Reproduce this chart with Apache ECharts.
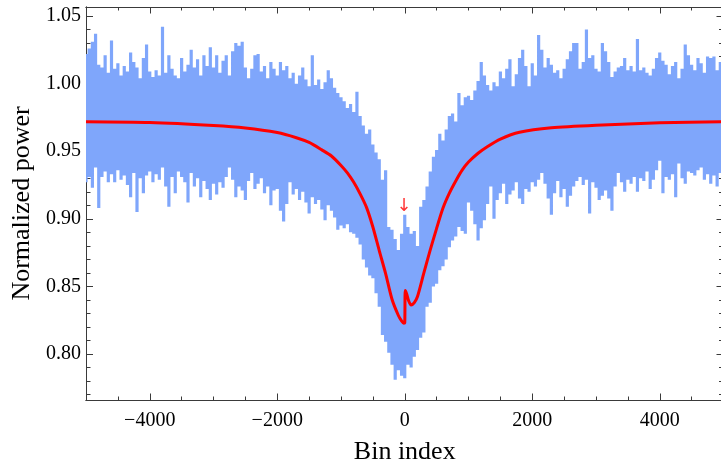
<!DOCTYPE html>
<html>
<head>
<meta charset="utf-8">
<script src="https://cdn.jsdelivr.net/npm/echarts@6/dist/echarts.min.js"></script>
<style>html,body{margin:0;padding:0;background:#fff;}#chart{width:721px;height:462px;}</style>
</head>
<body>
<div id="chart"></div>
<script>
// ---- data ----
const noiseStart = -5000;   // first bin of the noise samples
const noiseStep = 50;       // bins between samples
const noiseHigh = [
  // -5000 .. -3000
  1.022,1.026,1.031,1.037,1.014,1.012,1.021,1.008,1.032,1.011,
  1.015,1.006,1.013,1.009,1.023,1.016,1.012,1.004,1.019,1.029,
  1.009,1.005,1.010,1.006,1.042,1.008,1.021,1.011,1.006,1.004,
  1.019,1.009,1.014,1.025,1.012,1.018,1.006,1.021,1.013,1.027,
  1.012,
  // -2950 .. -1000
  1.021,1.008,1.017,1.021,1.006,1.024,1.030,1.028,1.031,1.012,
  1.004,1.011,1.021,1.022,1.009,1.013,1.004,1.016,1.011,1.006,
  1.016,1.010,1.013,1.004,1.008,1.000,1.006,1.012,1.003,0.998,
  1.021,0.999,1.003,0.996,1.001,1.010,1.004,0.997,0.993,0.990,
  // -950 .. 950
  0.987,0.982,0.985,0.979,0.994,0.976,0.969,0.963,0.966,0.955,
  0.949,0.944,0.929,0.936,0.894,0.892,0.885,0.877,0.889,0.903,
  0.894,0.889,0.891,0.880,0.909,0.914,0.924,0.935,0.946,0.951,
  0.963,0.958,0.966,0.976,0.978,0.972,0.993,0.984,0.990,
  // 1000 .. 3000
  0.991,0.988,0.995,1.002,1.016,1.006,0.999,0.995,1.001,0.998,
  1.009,1.004,1.011,1.018,0.998,1.007,1.019,1.025,1.013,0.998,
  1.015,1.006,1.036,1.025,1.012,1.019,1.014,1.008,1.010,1.004,
  1.011,1.018,1.024,1.030,1.030,1.011,1.016,1.040,1.019,1.021,
  1.011,
  // 3050 .. 5000
  1.009,1.030,1.024,1.016,1.005,1.009,1.012,1.013,1.019,1.010,
  1.013,1.009,1.033,1.010,1.012,1.008,1.006,1.011,1.019,1.023,
  1.017,1.014,1.007,1.013,1.016,1.004,1.011,1.029,1.021,1.014,
  1.010,1.019,1.015,1.008,1.020,1.019,1.020,1.010,1.016,1.012
];
const noiseLow = [
  // -5000 .. -3000
  0.927,0.931,0.923,0.938,0.908,0.931,0.935,0.927,0.933,0.927,
  0.936,0.929,0.932,0.925,0.916,0.934,0.905,0.930,0.919,0.932,
  0.935,0.927,0.933,0.929,0.938,0.924,0.909,0.931,0.919,0.935,
  0.931,0.927,0.912,0.934,0.924,0.930,0.916,0.928,0.922,0.914,
  0.926,
  // -2950 .. -1000
  0.918,0.927,0.923,0.931,0.938,0.929,0.916,0.924,0.921,0.914,
  0.928,0.934,0.922,0.926,0.930,0.919,0.924,0.910,0.921,0.922,
  0.906,0.898,0.911,0.927,0.918,0.922,0.914,0.920,0.912,0.904,
  0.916,0.911,0.914,0.907,0.899,0.910,0.906,0.901,0.892,0.895,
  // -950 .. 950
  0.893,0.896,0.890,0.889,0.886,0.881,0.870,0.864,0.858,0.856,
  0.845,0.835,0.814,0.809,0.801,0.792,0.781,0.788,0.784,0.782,
  0.792,0.790,0.798,0.803,0.812,0.816,0.835,0.838,0.850,0.852,
  0.862,0.865,0.870,0.879,0.884,0.887,0.894,0.891,0.889,
  // 1000 .. 3000
  0.912,0.906,0.896,0.884,0.893,0.899,0.911,0.924,0.900,0.914,
  0.919,0.926,0.911,0.918,0.921,0.927,0.915,0.911,0.922,0.920,
  0.927,0.924,0.929,0.934,0.926,0.915,0.903,0.919,0.928,0.916,
  0.922,0.909,0.917,0.924,0.928,0.931,0.925,0.929,0.904,0.927,
  0.923,
  // 3050 .. 5000
  0.914,0.917,0.921,0.915,0.906,0.924,0.934,0.927,0.920,0.929,
  0.926,0.931,0.920,0.930,0.928,0.935,0.922,0.929,0.936,0.943,
  0.919,0.931,0.929,0.933,0.916,0.941,0.930,0.926,0.935,0.934,
  0.932,0.936,0.938,0.929,0.933,0.926,0.932,0.924,0.934,0.931
];
const fitX = [-5000,-4000,-3000,-2500,-2000,-1700,-1500,-1300,-1150,-1000,-900,-800,-700,-600,-500,-400,-300,-200,-100,-50,-15,0,8,30,60,100,150,200,300,400,500,600,700,800,900,1000,1150,1300,1500,1800,2300,3000,4000,5000];
const fitY = [0.9718,0.9712,0.9690,0.9672,0.9638,0.9600,0.9565,0.9510,0.9465,0.9395,0.9340,0.9270,0.9185,0.9085,0.8940,0.8765,0.8595,0.8405,0.8285,0.8245,0.8228,0.8230,0.8470,0.8445,0.8395,0.8362,0.8380,0.8425,0.8600,0.8770,0.8930,0.9080,0.9190,0.9280,0.9360,0.9420,0.9485,0.9535,0.9590,0.9640,0.9673,0.9692,0.9710,0.9718];
const arrowX = -10;
const arrowY = 0.909;
const xMajorTicks = [-4000,-2000,0,2000,4000];
const xMinorTicks = [-5000,-4500,-3500,-3000,-2500,-1500,-1000,-500,500,1000,1500,2500,3000,3500,4500];
const yMajorTicks = [0.80,0.85,0.90,0.95,1.00,1.05];
const yMinorTicks = [0.77,0.78,0.79,0.81,0.82,0.83,0.84,0.86,0.87,0.88,0.89,0.91,0.92,0.93,0.94,0.96,0.97,0.98,0.99,1.01,1.02,1.03,1.04];

// ---- chart ----
const X_MIN = -5000, X_MAX = 5000, Y_MIN = 0.766, Y_MAX = 1.0567;
const frame = '#3a3a3a';
const blue = '#7fa6fb';
const serif = '"Liberation Serif", "DejaVu Serif", serif';
const noiseData = noiseHigh.map((h, i) => [noiseStart + i * noiseStep, noiseLow[i], h]);
const fitData = fitX.map((x, i) => [x, fitY[i]]);

function xAxisCfg(pos, ticks, len, labels) {
  return {
    type: 'value', min: X_MIN, max: X_MAX, position: pos, gridIndex: 0,
    axisLine: { show: true, onZero: false, lineStyle: { color: frame, width: 1 } },
    axisTick: { show: true, inside: true, length: len, customValues: ticks, lineStyle: { color: frame, width: 1 } },
    axisLabel: labels ? {
      show: true, customValues: ticks, margin: 11,
      formatter: v => String(v).replace('-', '\u2212'),
      fontFamily: serif, fontSize: 20, color: '#000'
    } : { show: false },
    splitLine: { show: false }
  };
}
function yAxisCfg(pos, ticks, len, labels) {
  return {
    type: 'value', min: Y_MIN, max: Y_MAX, position: pos, gridIndex: 0,
    axisLine: { show: true, onZero: false, lineStyle: { color: frame, width: 1 } },
    axisTick: { show: true, inside: true, length: len, customValues: ticks, lineStyle: { color: frame, width: 1 } },
    axisLabel: labels ? {
      show: true, customValues: ticks, margin: 5,
      formatter: v => Number(v).toFixed(2),
      fontFamily: serif, fontSize: 20, color: '#000'
    } : { show: false },
    splitLine: { show: false }
  };
}

const xAxes = [
  Object.assign(xAxisCfg('bottom', xMajorTicks, 6.5, true), {
    name: 'Bin index', nameLocation: 'middle', nameGap: 39,
    nameTextStyle: { fontFamily: serif, fontSize: 26, color: '#000' }
  }),
  xAxisCfg('bottom', xMinorTicks, 3.5, false),
  xAxisCfg('top', xMajorTicks, 6.5, false),
  xAxisCfg('top', xMinorTicks, 3.5, false)
];
const yAxes = [
  Object.assign(yAxisCfg('left', yMajorTicks, 7, true), {
    name: 'Normalized power', nameLocation: 'middle', nameGap: 50,
    nameTextStyle: { fontFamily: serif, fontSize: 26, color: '#000' }
  }),
  yAxisCfg('left', yMinorTicks, 4.5, false),
  yAxisCfg('right', yMajorTicks, 7, false),
  yAxisCfg('right', yMinorTicks, 4.5, false)
];

const chart = echarts.init(document.getElementById('chart'), null, { renderer: 'canvas' });
chart.setOption({
  animation: false,
  backgroundColor: '#fff',
  grid: { left: 86, top: 7, width: 637.5, height: 393, containLabel: false, outerBoundsMode: 'none' },
  xAxis: xAxes,
  yAxis: yAxes,
  series: [
    {
      // the noisy trace: one stepped band polygon through all samples
      type: 'custom', xAxisIndex: 0, yAxisIndex: 0, clip: true,
      data: noiseData,
      encode: { x: 0, y: [1, 2] },
      renderItem: function (params, api) {
        if (params.dataIndex !== 0) return null;
        const top = [], bot = [];
        noiseData.forEach(d => {
          top.push(api.coord([d[0] - noiseStep / 2, d[2]]), api.coord([d[0] + noiseStep / 2, d[2]]));
          bot.push(api.coord([d[0] - noiseStep / 2, d[1]]), api.coord([d[0] + noiseStep / 2, d[1]]));
        });
        return {
          type: 'polygon',
          shape: { points: top.concat(bot.reverse()) },
          style: { fill: blue, stroke: null }
        };
      }
    },
    {
      type: 'line', xAxisIndex: 0, yAxisIndex: 0,
      data: fitData, symbol: 'none', smooth: 0.25,
      lineStyle: { color: '#ff0000', width: 3 }, z: 5
    },
    {
      type: 'scatter', xAxisIndex: 0, yAxisIndex: 0,
      data: [[arrowX, arrowY]], symbolSize: 1, itemStyle: { color: 'rgba(0,0,0,0)' },
      label: { show: true, position: 'inside', formatter: '\u2193', color: '#ff0000', fontSize: 18, fontFamily: '"DejaVu Sans", sans-serif' },
      z: 6
    }
  ]
});
</script>
</body>
</html>
